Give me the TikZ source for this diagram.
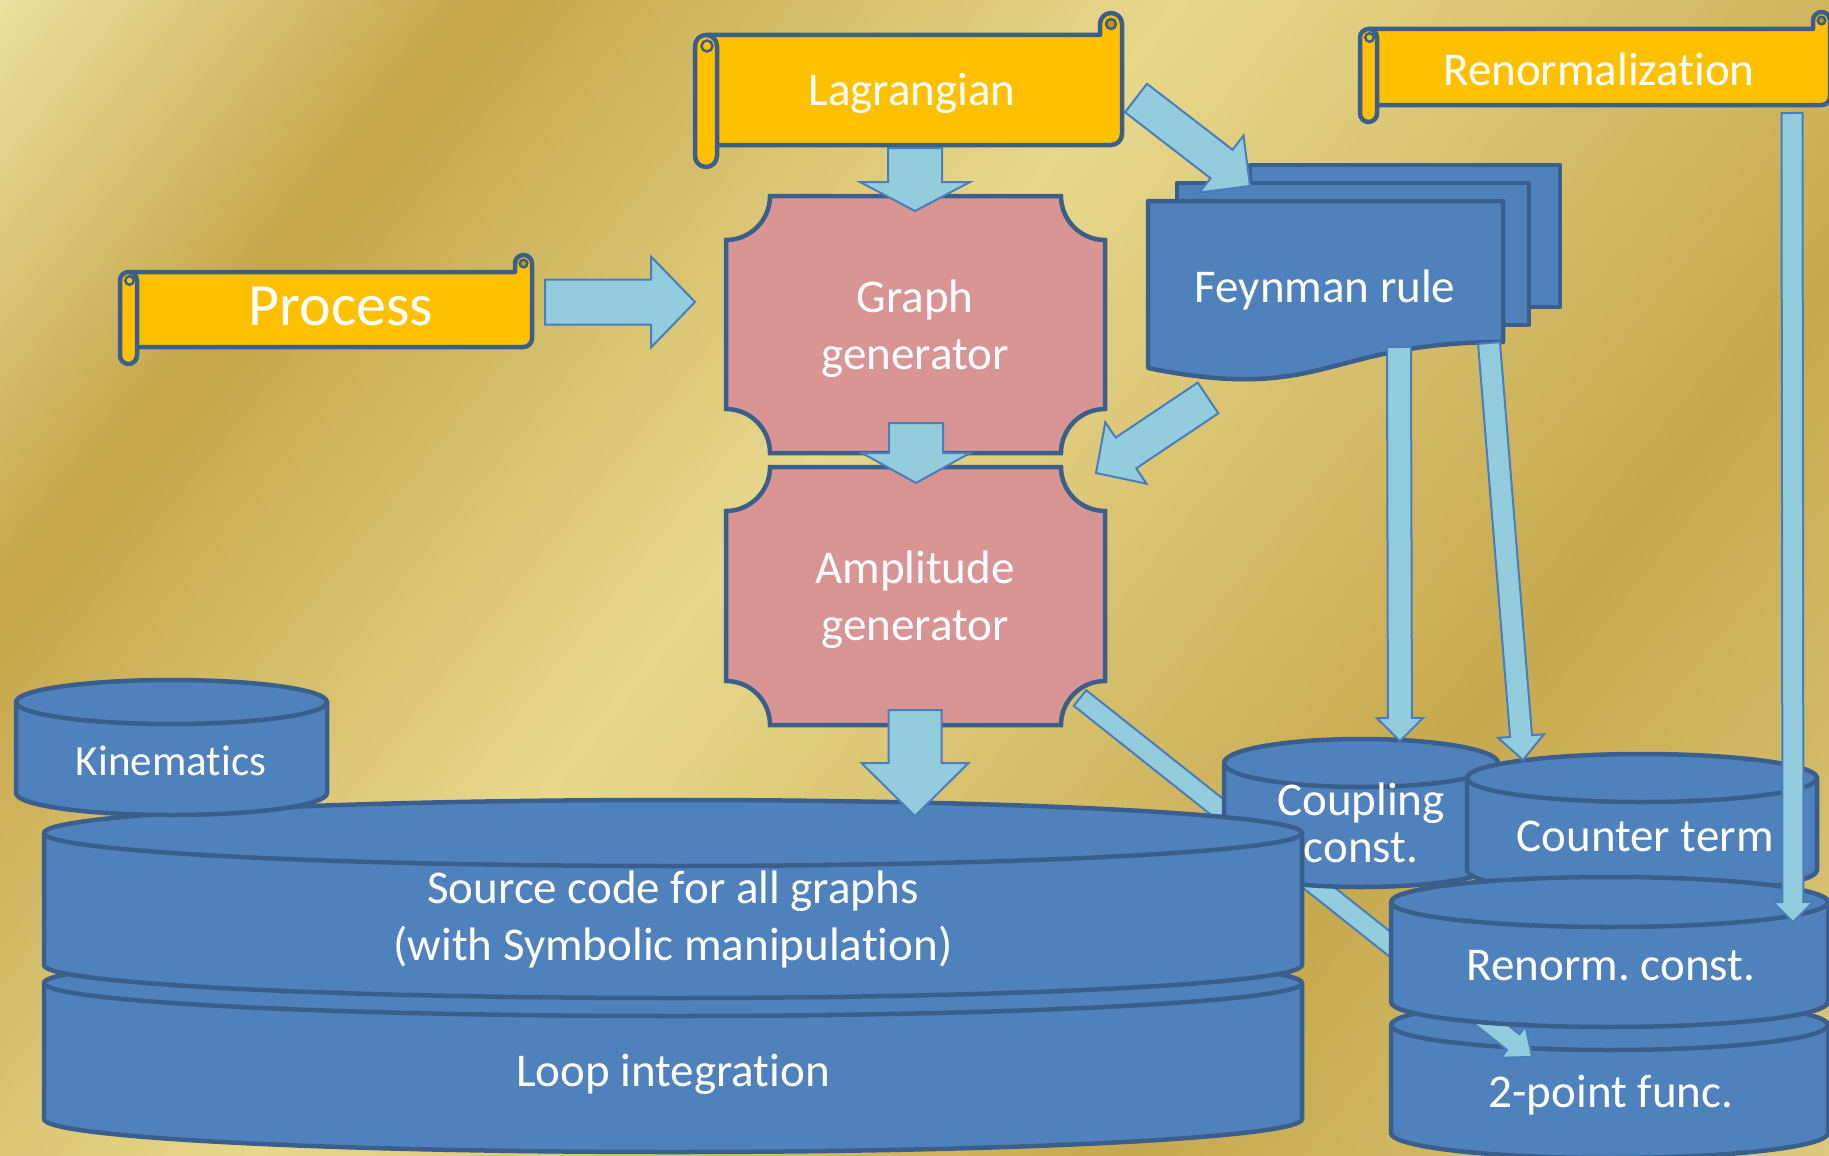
\documentclass[tikz,border=0pt]{standalone}
\usepackage{fontspec}
\setmainfont{Carlito}[Ligatures=NoCommon,RawFeature={-liga;-clig}]
\frenchspacing
\definecolor{bgA}{HTML}{EBE0A0}
\definecolor{bgB}{HTML}{C5A64A}
\definecolor{bgC}{HTML}{E7D88C}
\definecolor{bgD}{HTML}{C7A94F}
\definecolor{bgE}{HTML}{DDCA7E}
\definecolor{outl}{HTML}{3A5F8D}
\definecolor{scrollfill}{HTML}{FFC000}
\definecolor{curlfill}{HTML}{C89A00}
\definecolor{plaquefill}{HTML}{D99594}
\definecolor{cylfill}{HTML}{4F81BD}
\definecolor{arrfill}{HTML}{93CDDD}
\definecolor{arrline}{HTML}{4A7EBB}
\pgfdeclarehorizontalshading{goldbg}{2400pt}{color(0pt)=(bgA); color(380pt)=(bgB); color(920pt)=(bgC); color(1600pt)=(bgD); color(2150pt)=(bgE)}

% block arrow: tail, tip, shaft half width, head half width, head length
\newcommand\blockarrow[5]{%
  \path (#1); \pgfgetlastxy{\bax}{\bay}%
  \path (#2); \pgfgetlastxy{\bbx}{\bby}%
  \pgfmathsetmacro\baang{atan2((\bby)-(\bay),(\bbx)-(\bax))}%
  \pgfmathsetmacro\balen{veclen((\bbx)-(\bax),(\bby)-(\bay))}%
  \pgfmathsetmacro\babase{\balen-#5}%
  \begin{scope}[shift={(\bax,\bay)},rotate=\baang]
    \draw[blockarr] (0pt,-#3pt) -- (\babase pt,-#3pt) -- (\babase pt,-#4pt) -- (\balen pt,0pt) -- (\babase pt,#4pt) -- (\babase pt,#3pt) -- (0pt,#3pt) -- cycle;
  \end{scope}}

% cylinder: L T R B ry
\newcommand\drawcyl[5]{%
  \pgfmathsetmacro\crx{(#3-#1)/2}%
  \draw[cyl] (#1,{#2+#5}) -- (#1,{#4-#5}) arc[start angle=180,end angle=0,x radius=\crx,y radius=#5] -- (#3,{#2+#5}) arc[start angle=0,end angle=-180,x radius=\crx,y radius=#5] -- cycle;
  \draw[cyl,fill=none] (#1,{#2+#5}) arc[start angle=180,end angle=0,x radius=\crx,y radius=#5];}

% plaque: L T R B r
\newcommand\drawplaque[5]{%
  \draw[plaque] ({#1+#5},#2) -- ({#3-#5},#2) arc[start angle=180,end angle=90,radius=#5] -- (#3,{#4-#5}) arc[start angle=-90,end angle=-180,radius=#5] -- ({#1+#5},#4) arc[start angle=0,end angle=-90,radius=#5] -- (#1,{#2+#5}) arc[start angle=90,end angle=0,radius=#5] -- cycle;}

% horizontal scroll: X0 Y0 X1 Y1 d
\newcommand\drawscroll[5]{%
  \pgfmathsetmacro\sr{#5/2}%
  \draw[scrollshape] ({#1+\sr},{#2+#5}) -- ({#3-#5},{#2+#5}) -- ({#3-#5},{#2+\sr}) arc[start angle=180,end angle=360,radius=\sr] -- (#3,{#4-#5-\sr}) arc[start angle=0,end angle=90,radius=\sr] -- ({#1+\sr},{#4-#5}) -- cycle;
  \draw[curl] ({#3-\sr},{#2+\sr}) circle[radius={\sr*0.45}];
  \draw[scrollshape] (#1,{#2+#5+\sr}) arc[start angle=180,end angle=360,radius=\sr] -- ({#1+#5},{#4-\sr}) arc[start angle=0,end angle=180,radius=\sr] -- cycle;
  \draw[curl,fill=scrollfill] ({#1+\sr+1},{#2+#5+\sr}) circle[radius={\sr*0.5}];}

\begin{document}
\begin{tikzpicture}[x=1pt,y=-1pt,
  scrollshape/.style={fill=scrollfill,draw=outl,line width=4.5pt,line join=round},
  curl/.style={fill=curlfill,draw=outl,line width=2.5pt},
  plaque/.style={fill=plaquefill,draw=outl,line width=4.5pt},
  doc/.style={fill=cylfill,draw=outl,line width=4.5pt,line join=round},
  cyl/.style={fill=cylfill,draw=outl,line width=4.5pt},
  blockarr/.style={fill=arrfill,draw=arrline,line width=2pt,line join=miter},
  lbl/.style={text=white,font=\fontsize{47}{57}\selectfont,inner sep=0pt,anchor=base}]
\useasboundingbox (0,0) rectangle (1829,1156);
\begin{scope}
  \clip (0,0) rectangle (1829,1156);
  \node[inner sep=0pt,outer sep=0pt,rotate=-38.8] (bg) at (914.5,578) {\pgfuseshading{goldbg}};
\end{scope}

% arrow end points
\coordinate (a1s) at (545,302);  \coordinate (a1e) at (695,302);
\coordinate (a2s) at (915,148);  \coordinate (a2e) at (915,211);
\coordinate (a3s) at (916,423);  \coordinate (a3e) at (916,483);
\coordinate (a4s) at (915,710);  \coordinate (a4e) at (915,816);
\coordinate (a5s) at (1208,398); \coordinate (a5e) at (1096,473);
\coordinate (a6s) at (1136,98);  \coordinate (a6e) at (1250,186);
\coordinate (a7s) at (1399,347); \coordinate (a7e) at (1400,741);
\coordinate (a8s) at (1489,343); \coordinate (a8e) at (1523,760);
\coordinate (a9s) at (1792,113); \coordinate (a9e) at (1793,922);
\coordinate (a10s) at (1080,698); \coordinate (a10e) at (1532,1057);

% bottom-right stack (back to front)
\drawcyl{1391}{1000}{1828}{1158}{25}
\blockarrow{a10s}{a10e}{10}{20}{24}
\drawcyl{44}{950}{1302}{1152}{33}
\drawcyl{1224}{739}{1498}{887}{24}
\drawcyl{1467}{754}{1817}{894}{24}
\drawcyl{1391}{877}{1828}{1027}{25}
\drawcyl{44}{800}{1302}{998}{33}
\drawcyl{16}{680}{327}{815}{22}

% plaques
\drawplaque{726}{196}{1105}{453}{44}
\drawplaque{726}{467}{1105}{725}{44}

% scrolls
\drawscroll{695}{13}{1122}{167}{22}
\drawscroll{120}{255}{532}{364}{17}
\drawscroll{1360}{12}{1830}{122}{17}

% Feynman rule multi-document
\draw[doc] (1250,165) rectangle (1560,307);
\draw[doc] (1177,183) rectangle (1529,325);
\draw[doc] (1148,201) -- (1503,201) -- (1503,342) .. controls (1325,342) and (1325,404) .. (1148,368) -- cycle;

% block arrows
\blockarrow{a1s}{a1e}{22.5}{45.5}{44}
\blockarrow{a2s}{a2e}{27}{55}{29}
\blockarrow{a3s}{a3e}{27}{54}{30}
\blockarrow{a4s}{a4e}{26.5}{53.5}{53}
\blockarrow{a5s}{a5e}{18.5}{37}{36}
\blockarrow{a6s}{a6e}{18}{36}{36}
\blockarrow{a7s}{a7e}{12}{23}{23}
\blockarrow{a8s}{a8e}{11}{23}{24}
\blockarrow{a9s}{a9e}{10.5}{20}{20}

% texts
\node[lbl] (tLag) at (912,106) {Lagrangian};
\node[lbl,font=\fontsize{60}{72}\selectfont] (tProc) at (341,325) {Process};
\node[lbl] (tRen) at (1599,85) {Renormalization};
\node[lbl] (tG1) at (915,312) {Graph};
\node[lbl] (tG2) at (915,369) {generator};
\node[lbl] (tA1) at (915,583) {Amplitude};
\node[lbl] (tA2) at (915,640) {generator};
\node[lbl] (tF) at (1325,302) {Feynman rule};
\node[lbl,font=\fontsize{43}{52}\selectfont] (tK) at (171,775) {Kinematics};
\node[lbl] (tS1) at (673,903) {Source code for all graphs};
\node[lbl] (tS2) at (673,960) {(with Symbolic manipulation)};
\node[lbl] (tL) at (673,1086) {Loop integration};
\node[lbl] (tC1) at (1361,815) {Coupling};
\node[lbl] (tC2) at (1361,862) {const.};
\node[lbl] (tCT) at (1645,851) {Counter term};
\node[lbl] (tRC) at (1611,980) {Renorm. const.};
\node[lbl] (t2P) at (1611,1107) {2-point func.};
\end{tikzpicture}
\end{document}
